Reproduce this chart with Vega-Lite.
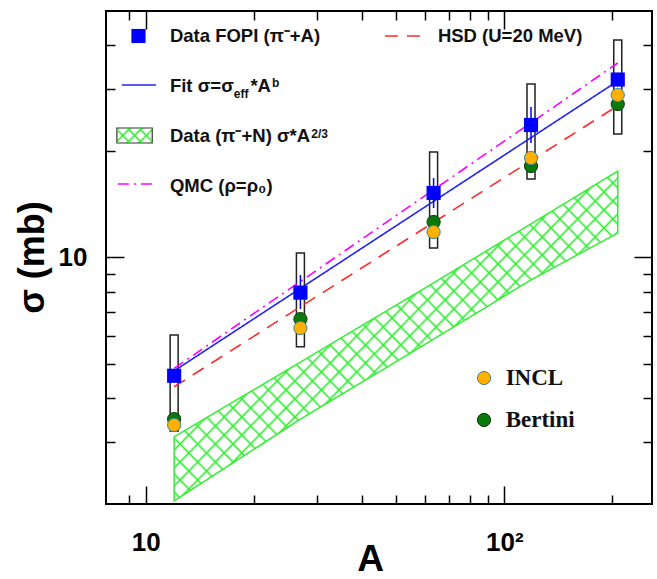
{
"$schema":"https://vega.github.io/schema/vega-lite/v6.json",
"width":546,"height":493,
"autosize":{"type":"none"},
"padding":{"left":106,"top":11,"right":5,"bottom":75},
"background":"white",
"config":{"view":{"stroke":"black","strokeWidth":2},"axis":{"grid":false,"domain":false}},
"datasets":{
"band":[{"A":12,"lo":2.04,"hi":3.10},{"A":27,"lo":3.48,"hi":5.05},{"A":63.5,"lo":5.87,"hi":8.47},{"A":118.7,"lo":8.64,"hi":12.45},{"A":207.2,"lo":11.73,"hi":17.59}],
"fopi":[{"A":12,"s":4.62,"slo":4.45,"shi":4.80,"blo":3.22,"bhi":6.03},{"A":27,"s":7.95,"slo":7.14,"shi":8.92,"blo":5.58,"bhi":10.3},{"A":63.5,"s":15.24,"slo":13.81,"shi":16.8,"blo":10.64,"bhi":19.92},{"A":118.7,"s":23.75,"slo":21.12,"shi":26.72,"blo":16.7,"bhi":31.04},{"A":207.2,"s":31.96,"slo":30.6,"shi":33.4,"blo":22.39,"bhi":41.38}],
"models":[{"model":"Bertini","A":12,"s":3.48},{"model":"Bertini","A":27,"s":6.69},{"model":"Bertini","A":63.5,"s":12.61},{"model":"Bertini","A":118.7,"s":18.17},{"model":"Bertini","A":207.2,"s":27.24},{"model":"INCL","A":12,"s":3.35},{"model":"INCL","A":27,"s":6.31},{"model":"INCL","A":63.5,"s":11.81},{"model":"INCL","A":118.7,"s":19.15},{"model":"INCL","A":207.2,"s":28.89}],
"curves":[{"curve":"Fit","A":12,"s":4.77},{"curve":"Fit","A":207.2,"s":31.66},{"curve":"HSD","A":12,"s":4.30},{"curve":"HSD","A":207.2,"s":26.94},{"curve":"QMC","A":12,"s":4.85},{"curve":"QMC","A":207.2,"s":35.6}],
"legsq":[{"A":9.544,"s":42.47}],
"legline":[{"curve":"Fit","A1":8.577,"A2":10.69,"s":30.85},{"curve":"QMC","A1":8.361,"A2":10.425,"s":16.16},{"curve":"HSD","A1":46.45,"A2":58.66,"s":42.47}],
"legbox":[{"A1":8.309,"A2":10.425,"s1":21.12,"s2":23.29}],
"legcirc":[{"model":"INCL","A":87.78,"s":4.553},{"model":"Bertini","A":87.78,"s":3.462}],
"legtext":[{"A":11.68,"s":40.83,"t":"Data FOPI (π⁻+A)"},{"A":11.68,"s":29.47,"t":"Fit σ=σ"},{"A":19.58,"s":29.47,"t":"*A"},{"A":11.68,"s":21.26,"t":"Data (π⁻+N) σ*A"},{"A":11.68,"s":15.34,"t":"QMC (ρ=ρ₀)"},{"A":65.28,"s":40.83,"t":"HSD (U=20 MeV)"}],
"legsmall":[{"A":17.6,"s":28.34,"t":"eff"},{"A":22.5,"s":30.54,"t":"b"},{"A":28.95,"s":21.89,"t":"2/3"}],
"legserif":[{"A":100.85,"s":4.35,"t":"INCL"},{"A":100.85,"s":3.307,"t":"Bertini"}]
},
"layer":[
{"data":{"name":"band"},
 "mark":{"type":"area","stroke":"#33ee33","strokeWidth":1.5,
  "fill":{"gradient":"linear","x1":0,"y1":0,"x2":1.1286,"y2":0.8239,"stops":[
{"offset":0.0085,"color":"#33ee3300"},{"offset":0.0115,"color":"#33ee33"},{"offset":0.0145,"color":"#33ee3300"},
{"offset":0.0315,"color":"#33ee3300"},{"offset":0.0345,"color":"#33ee33"},{"offset":0.0375,"color":"#33ee3300"},
{"offset":0.0545,"color":"#33ee3300"},{"offset":0.0575,"color":"#33ee33"},{"offset":0.0605,"color":"#33ee3300"},
{"offset":0.0776,"color":"#33ee3300"},{"offset":0.0806,"color":"#33ee33"},{"offset":0.0836,"color":"#33ee3300"},
{"offset":0.1006,"color":"#33ee3300"},{"offset":0.1036,"color":"#33ee33"},{"offset":0.1066,"color":"#33ee3300"},
{"offset":0.1236,"color":"#33ee3300"},{"offset":0.1266,"color":"#33ee33"},{"offset":0.1296,"color":"#33ee3300"},
{"offset":0.1466,"color":"#33ee3300"},{"offset":0.1496,"color":"#33ee33"},{"offset":0.1526,"color":"#33ee3300"},
{"offset":0.1696,"color":"#33ee3300"},{"offset":0.1726,"color":"#33ee33"},{"offset":0.1756,"color":"#33ee3300"},
{"offset":0.1926,"color":"#33ee3300"},{"offset":0.1956,"color":"#33ee33"},{"offset":0.1986,"color":"#33ee3300"},
{"offset":0.2157,"color":"#33ee3300"},{"offset":0.2187,"color":"#33ee33"},{"offset":0.2217,"color":"#33ee3300"},
{"offset":0.2387,"color":"#33ee3300"},{"offset":0.2417,"color":"#33ee33"},{"offset":0.2447,"color":"#33ee3300"},
{"offset":0.2617,"color":"#33ee3300"},{"offset":0.2647,"color":"#33ee33"},{"offset":0.2677,"color":"#33ee3300"},
{"offset":0.2847,"color":"#33ee3300"},{"offset":0.2877,"color":"#33ee33"},{"offset":0.2907,"color":"#33ee3300"},
{"offset":0.3077,"color":"#33ee3300"},{"offset":0.3107,"color":"#33ee33"},{"offset":0.3137,"color":"#33ee3300"},
{"offset":0.3308,"color":"#33ee3300"},{"offset":0.3338,"color":"#33ee33"},{"offset":0.3368,"color":"#33ee3300"},
{"offset":0.3538,"color":"#33ee3300"},{"offset":0.3568,"color":"#33ee33"},{"offset":0.3598,"color":"#33ee3300"},
{"offset":0.3768,"color":"#33ee3300"},{"offset":0.3798,"color":"#33ee33"},{"offset":0.3828,"color":"#33ee3300"},
{"offset":0.3998,"color":"#33ee3300"},{"offset":0.4028,"color":"#33ee33"},{"offset":0.4058,"color":"#33ee3300"},
{"offset":0.4228,"color":"#33ee3300"},{"offset":0.4258,"color":"#33ee33"},{"offset":0.4288,"color":"#33ee3300"},
{"offset":0.4458,"color":"#33ee3300"},{"offset":0.4488,"color":"#33ee33"},{"offset":0.4518,"color":"#33ee3300"},
{"offset":0.4689,"color":"#33ee3300"},{"offset":0.4719,"color":"#33ee33"},{"offset":0.4749,"color":"#33ee3300"},
{"offset":0.4919,"color":"#33ee3300"},{"offset":0.4949,"color":"#33ee33"},{"offset":0.4979,"color":"#33ee3300"},
{"offset":0.5149,"color":"#33ee3300"},{"offset":0.5179,"color":"#33ee33"},{"offset":0.5209,"color":"#33ee3300"},
{"offset":0.5379,"color":"#33ee3300"},{"offset":0.5409,"color":"#33ee33"},{"offset":0.5439,"color":"#33ee3300"},
{"offset":0.5609,"color":"#33ee3300"},{"offset":0.5639,"color":"#33ee33"},{"offset":0.5669,"color":"#33ee3300"},
{"offset":0.584,"color":"#33ee3300"},{"offset":0.587,"color":"#33ee33"},{"offset":0.59,"color":"#33ee3300"},
{"offset":0.607,"color":"#33ee3300"},{"offset":0.61,"color":"#33ee33"},{"offset":0.613,"color":"#33ee3300"},
{"offset":0.63,"color":"#33ee3300"},{"offset":0.633,"color":"#33ee33"},{"offset":0.636,"color":"#33ee3300"},
{"offset":0.653,"color":"#33ee3300"},{"offset":0.656,"color":"#33ee33"},{"offset":0.659,"color":"#33ee3300"},
{"offset":0.676,"color":"#33ee3300"},{"offset":0.679,"color":"#33ee33"},{"offset":0.682,"color":"#33ee3300"},
{"offset":0.699,"color":"#33ee3300"},{"offset":0.702,"color":"#33ee33"},{"offset":0.705,"color":"#33ee3300"},
{"offset":0.7221,"color":"#33ee3300"},{"offset":0.7251,"color":"#33ee33"},{"offset":0.7281,"color":"#33ee3300"},
{"offset":0.7451,"color":"#33ee3300"},{"offset":0.7481,"color":"#33ee33"},{"offset":0.7511,"color":"#33ee3300"},
{"offset":0.7681,"color":"#33ee3300"},{"offset":0.7711,"color":"#33ee33"},{"offset":0.7741,"color":"#33ee3300"},
{"offset":0.7911,"color":"#33ee3300"},{"offset":0.7941,"color":"#33ee33"},{"offset":0.7971,"color":"#33ee3300"},
{"offset":0.8141,"color":"#33ee3300"},{"offset":0.8171,"color":"#33ee33"},{"offset":0.8201,"color":"#33ee3300"},
{"offset":0.8371,"color":"#33ee3300"},{"offset":0.8401,"color":"#33ee33"},{"offset":0.8431,"color":"#33ee3300"},
{"offset":0.8602,"color":"#33ee3300"},{"offset":0.8632,"color":"#33ee33"},{"offset":0.8662,"color":"#33ee3300"},
{"offset":0.8832,"color":"#33ee3300"},{"offset":0.8862,"color":"#33ee33"},{"offset":0.8892,"color":"#33ee3300"},
{"offset":0.9062,"color":"#33ee3300"},{"offset":0.9092,"color":"#33ee33"},{"offset":0.9122,"color":"#33ee3300"},
{"offset":0.9292,"color":"#33ee3300"},{"offset":0.9322,"color":"#33ee33"},{"offset":0.9352,"color":"#33ee3300"},
{"offset":0.9522,"color":"#33ee3300"},{"offset":0.9552,"color":"#33ee33"},{"offset":0.9582,"color":"#33ee3300"},
{"offset":0.9753,"color":"#33ee3300"},{"offset":0.9783,"color":"#33ee33"},{"offset":0.9813,"color":"#33ee3300"}]}},
 "encoding":{
  "x":{"field":"A","type":"quantitative","scale":{"type":"log","domain":[8,250],"nice":false},
   "axis":{"orient":"bottom","values":[9,10,20,30,40,50,60,70,80,90,100,200],
    "labelExpr":"datum.value == 10 ? '10' : (datum.value == 100 ? '10²' : '')",
    "tickSize":{"condition":{"test":"datum.value == 10 || datum.value == 100","value":-18},"value":-9},
    "tickColor":"black","tickWidth":1.5,
    "labelFont":"Liberation Sans","labelFontWeight":"bold","labelFontSize":26,"labelColor":"black",
    "labelPadding":64,"labelBaseline":"alphabetic","labelOverlap":false,"labelFlush":false,"labelBound":false,
    "title":"A","titleFont":"Liberation Sans","titleFontWeight":"bold","titleFontSize":37,"titleColor":"black",
    "titleX":264,"titleY":66,"titleBaseline":"alphabetic"}},
  "y":{"field":"hi","type":"quantitative","scale":{"type":"log","domain":[2,50],"nice":false},
   "axis":{"orient":"left","values":[3,4,5,6,7,8,9,10,20,30,40],
    "labelExpr":"datum.value == 10 ? '10' : ''",
    "tickSize":{"condition":{"test":"datum.value == 10","value":-18},"value":-9},
    "tickColor":"black","tickWidth":1.5,
    "labelFont":"Liberation Sans","labelFontWeight":"bold","labelFontSize":26,"labelColor":"black",
    "labelPadding":37,"labelOverlap":false,"labelFlush":false,"labelBound":false,
    "title":"σ (mb)","titleFont":"Liberation Sans","titleFontWeight":"bold","titleFontSize":36,"titleColor":"black",
    "titleX":-63,"titleY":246,"titleAngle":-90,"titleBaseline":"alphabetic","titleAlign":"center"}},
  "y2":{"field":"lo"}}},
{"data":{"name":"band"},
 "mark":{"type":"area",
  "fill":{"gradient":"linear","x1":0,"y1":1,"x2":1.1286,"y2":0.1761,"stops":[
{"offset":0.0085,"color":"#33ee3300"},{"offset":0.0115,"color":"#33ee33"},{"offset":0.0145,"color":"#33ee3300"},
{"offset":0.0315,"color":"#33ee3300"},{"offset":0.0345,"color":"#33ee33"},{"offset":0.0375,"color":"#33ee3300"},
{"offset":0.0545,"color":"#33ee3300"},{"offset":0.0575,"color":"#33ee33"},{"offset":0.0605,"color":"#33ee3300"},
{"offset":0.0776,"color":"#33ee3300"},{"offset":0.0806,"color":"#33ee33"},{"offset":0.0836,"color":"#33ee3300"},
{"offset":0.1006,"color":"#33ee3300"},{"offset":0.1036,"color":"#33ee33"},{"offset":0.1066,"color":"#33ee3300"},
{"offset":0.1236,"color":"#33ee3300"},{"offset":0.1266,"color":"#33ee33"},{"offset":0.1296,"color":"#33ee3300"},
{"offset":0.1466,"color":"#33ee3300"},{"offset":0.1496,"color":"#33ee33"},{"offset":0.1526,"color":"#33ee3300"},
{"offset":0.1696,"color":"#33ee3300"},{"offset":0.1726,"color":"#33ee33"},{"offset":0.1756,"color":"#33ee3300"},
{"offset":0.1926,"color":"#33ee3300"},{"offset":0.1956,"color":"#33ee33"},{"offset":0.1986,"color":"#33ee3300"},
{"offset":0.2157,"color":"#33ee3300"},{"offset":0.2187,"color":"#33ee33"},{"offset":0.2217,"color":"#33ee3300"},
{"offset":0.2387,"color":"#33ee3300"},{"offset":0.2417,"color":"#33ee33"},{"offset":0.2447,"color":"#33ee3300"},
{"offset":0.2617,"color":"#33ee3300"},{"offset":0.2647,"color":"#33ee33"},{"offset":0.2677,"color":"#33ee3300"},
{"offset":0.2847,"color":"#33ee3300"},{"offset":0.2877,"color":"#33ee33"},{"offset":0.2907,"color":"#33ee3300"},
{"offset":0.3077,"color":"#33ee3300"},{"offset":0.3107,"color":"#33ee33"},{"offset":0.3137,"color":"#33ee3300"},
{"offset":0.3308,"color":"#33ee3300"},{"offset":0.3338,"color":"#33ee33"},{"offset":0.3368,"color":"#33ee3300"},
{"offset":0.3538,"color":"#33ee3300"},{"offset":0.3568,"color":"#33ee33"},{"offset":0.3598,"color":"#33ee3300"},
{"offset":0.3768,"color":"#33ee3300"},{"offset":0.3798,"color":"#33ee33"},{"offset":0.3828,"color":"#33ee3300"},
{"offset":0.3998,"color":"#33ee3300"},{"offset":0.4028,"color":"#33ee33"},{"offset":0.4058,"color":"#33ee3300"},
{"offset":0.4228,"color":"#33ee3300"},{"offset":0.4258,"color":"#33ee33"},{"offset":0.4288,"color":"#33ee3300"},
{"offset":0.4458,"color":"#33ee3300"},{"offset":0.4488,"color":"#33ee33"},{"offset":0.4518,"color":"#33ee3300"},
{"offset":0.4689,"color":"#33ee3300"},{"offset":0.4719,"color":"#33ee33"},{"offset":0.4749,"color":"#33ee3300"},
{"offset":0.4919,"color":"#33ee3300"},{"offset":0.4949,"color":"#33ee33"},{"offset":0.4979,"color":"#33ee3300"},
{"offset":0.5149,"color":"#33ee3300"},{"offset":0.5179,"color":"#33ee33"},{"offset":0.5209,"color":"#33ee3300"},
{"offset":0.5379,"color":"#33ee3300"},{"offset":0.5409,"color":"#33ee33"},{"offset":0.5439,"color":"#33ee3300"},
{"offset":0.5609,"color":"#33ee3300"},{"offset":0.5639,"color":"#33ee33"},{"offset":0.5669,"color":"#33ee3300"},
{"offset":0.584,"color":"#33ee3300"},{"offset":0.587,"color":"#33ee33"},{"offset":0.59,"color":"#33ee3300"},
{"offset":0.607,"color":"#33ee3300"},{"offset":0.61,"color":"#33ee33"},{"offset":0.613,"color":"#33ee3300"},
{"offset":0.63,"color":"#33ee3300"},{"offset":0.633,"color":"#33ee33"},{"offset":0.636,"color":"#33ee3300"},
{"offset":0.653,"color":"#33ee3300"},{"offset":0.656,"color":"#33ee33"},{"offset":0.659,"color":"#33ee3300"},
{"offset":0.676,"color":"#33ee3300"},{"offset":0.679,"color":"#33ee33"},{"offset":0.682,"color":"#33ee3300"},
{"offset":0.699,"color":"#33ee3300"},{"offset":0.702,"color":"#33ee33"},{"offset":0.705,"color":"#33ee3300"},
{"offset":0.7221,"color":"#33ee3300"},{"offset":0.7251,"color":"#33ee33"},{"offset":0.7281,"color":"#33ee3300"},
{"offset":0.7451,"color":"#33ee3300"},{"offset":0.7481,"color":"#33ee33"},{"offset":0.7511,"color":"#33ee3300"},
{"offset":0.7681,"color":"#33ee3300"},{"offset":0.7711,"color":"#33ee33"},{"offset":0.7741,"color":"#33ee3300"},
{"offset":0.7911,"color":"#33ee3300"},{"offset":0.7941,"color":"#33ee33"},{"offset":0.7971,"color":"#33ee3300"},
{"offset":0.8141,"color":"#33ee3300"},{"offset":0.8171,"color":"#33ee33"},{"offset":0.8201,"color":"#33ee3300"},
{"offset":0.8371,"color":"#33ee3300"},{"offset":0.8401,"color":"#33ee33"},{"offset":0.8431,"color":"#33ee3300"},
{"offset":0.8602,"color":"#33ee3300"},{"offset":0.8632,"color":"#33ee33"},{"offset":0.8662,"color":"#33ee3300"},
{"offset":0.8832,"color":"#33ee3300"},{"offset":0.8862,"color":"#33ee33"},{"offset":0.8892,"color":"#33ee3300"},
{"offset":0.9062,"color":"#33ee3300"},{"offset":0.9092,"color":"#33ee33"},{"offset":0.9122,"color":"#33ee3300"},
{"offset":0.9292,"color":"#33ee3300"},{"offset":0.9322,"color":"#33ee33"},{"offset":0.9352,"color":"#33ee3300"},
{"offset":0.9522,"color":"#33ee3300"},{"offset":0.9552,"color":"#33ee33"},{"offset":0.9582,"color":"#33ee3300"},
{"offset":0.9753,"color":"#33ee3300"},{"offset":0.9783,"color":"#33ee33"},{"offset":0.9813,"color":"#33ee3300"}]}},
 "encoding":{
  "x":{"field":"A","type":"quantitative","scale":{"type":"log","domain":[8,250],"nice":false},"axis":null},
  "y":{"field":"hi","type":"quantitative","scale":{"type":"log","domain":[2,50],"nice":false},"axis":null},
  "y2":{"field":"lo"}}},
{"data":{"name":"fopi"},
 "mark":{"type":"bar","width":8,"fill":"white","fillOpacity":0,"stroke":"#222222","strokeWidth":1.5},
 "encoding":{
  "x":{"field":"A","type":"quantitative","scale":{"type":"log","domain":[8,250],"nice":false},
   "axis":{"orient":"top","values":[9,10,20,30,40,50,60,70,80,90,100,200],"labels":false,
    "tickSize":{"condition":{"test":"datum.value == 10 || datum.value == 100","value":-18},"value":-9},
    "tickColor":"black","tickWidth":1.5,"title":null}},
  "y":{"field":"bhi","type":"quantitative","scale":{"type":"log","domain":[2,50],"nice":false},
   "axis":{"orient":"right","values":[3,4,5,6,7,8,9,10,20,30,40],"labels":false,
    "tickSize":{"condition":{"test":"datum.value == 10","value":-18},"value":-9},
    "tickColor":"black","tickWidth":1.5,"title":null}},
  "y2":{"field":"blo"}}},
{"data":{"name":"curves"},
 "mark":{"type":"line","strokeWidth":1.6},
 "encoding":{
  "x":{"field":"A","type":"quantitative","scale":{"type":"log","domain":[8,250],"nice":false},"axis":null},
  "y":{"field":"s","type":"quantitative","scale":{"type":"log","domain":[2,50],"nice":false},"axis":null},
  "color":{"field":"curve","type":"nominal","scale":{"domain":["Fit","HSD","QMC"],"range":["#2424f0","#ff2a2a","#ff00ff"]},"legend":null},
  "strokeDash":{"field":"curve","type":"nominal","scale":{"domain":["Fit","HSD","QMC"],"range":[[1,0],[13,9],[11,5,2,5]]},"legend":null}}},
{"data":{"name":"legline"},
 "mark":{"type":"rule","strokeWidth":1.6},
 "encoding":{
  "x":{"field":"A1","type":"quantitative","scale":{"type":"log","domain":[8,250],"nice":false},"axis":null},
  "x2":{"field":"A2"},
  "y":{"field":"s","type":"quantitative","scale":{"type":"log","domain":[2,50],"nice":false},"axis":null},
  "color":{"field":"curve","type":"nominal","scale":{"domain":["Fit","HSD","QMC"],"range":["#2424f0","#ff2a2a","#ff00ff"]},"legend":null},
  "strokeDash":{"field":"curve","type":"nominal","scale":{"domain":["Fit","HSD","QMC"],"range":[[1,0],[13,9],[11,5,2,5]]},"legend":null}}},
{"data":{"name":"fopi"},
 "mark":{"type":"rule","color":"#0000ff","strokeWidth":1.5},
 "encoding":{
  "x":{"field":"A","type":"quantitative","scale":{"type":"log","domain":[8,250],"nice":false},"axis":null},
  "y":{"field":"slo","type":"quantitative","scale":{"type":"log","domain":[2,50],"nice":false},"axis":null},
  "y2":{"field":"shi"}}},
{"data":{"name":"models"},
 "mark":{"type":"point","shape":"circle","filled":true,"size":175,"strokeWidth":1,"opacity":1},
 "encoding":{
  "x":{"field":"A","type":"quantitative","scale":{"type":"log","domain":[8,250],"nice":false},"axis":null},
  "y":{"field":"s","type":"quantitative","scale":{"type":"log","domain":[2,50],"nice":false},"axis":null},
  "fill":{"field":"model","type":"nominal","scale":{"domain":["INCL","Bertini"],"range":["#ffb000","#0b780b"]},"legend":null},
  "stroke":{"field":"model","type":"nominal","scale":{"domain":["INCL","Bertini"],"range":["#3f8599","#0a400a"]},"legend":null}}},
{"data":{"name":"legcirc"},
 "mark":{"type":"point","shape":"circle","filled":true,"size":175,"strokeWidth":1,"opacity":1},
 "encoding":{
  "x":{"field":"A","type":"quantitative","scale":{"type":"log","domain":[8,250],"nice":false},"axis":null},
  "y":{"field":"s","type":"quantitative","scale":{"type":"log","domain":[2,50],"nice":false},"axis":null},
  "fill":{"field":"model","type":"nominal","scale":{"domain":["INCL","Bertini"],"range":["#ffb000","#0b780b"]},"legend":null},
  "stroke":{"field":"model","type":"nominal","scale":{"domain":["INCL","Bertini"],"range":["#3f8599","#0a400a"]},"legend":null}}},
{"data":{"name":"fopi"},
 "mark":{"type":"point","shape":"square","filled":true,"size":200,"color":"#0000ff","opacity":1},
 "encoding":{
  "x":{"field":"A","type":"quantitative","scale":{"type":"log","domain":[8,250],"nice":false},"axis":null},
  "y":{"field":"s","type":"quantitative","scale":{"type":"log","domain":[2,50],"nice":false},"axis":null}}},
{"data":{"name":"legsq"},
 "mark":{"type":"point","shape":"square","filled":true,"size":200,"color":"#0000ff","opacity":1},
 "encoding":{
  "x":{"field":"A","type":"quantitative","scale":{"type":"log","domain":[8,250],"nice":false},"axis":null},
  "y":{"field":"s","type":"quantitative","scale":{"type":"log","domain":[2,50],"nice":false},"axis":null}}},
{"data":{"name":"legbox"},
 "mark":{"type":"rect","stroke":"#333333","strokeWidth":1.2,
  "fill":{"gradient":"linear","x1":0,"y1":0,"x2":1.2071,"y2":0.503,"stops":[{"offset":0,"color":"#33ee33"},{"offset":0.0744,"color":"#33ee3300"},{"offset":0.2197,"color":"#33ee3300"},{"offset":0.2647,"color":"#33ee33"},{"offset":0.3097,"color":"#33ee3300"},{"offset":0.455,"color":"#33ee3300"},{"offset":0.5,"color":"#33ee33"},{"offset":0.545,"color":"#33ee3300"},{"offset":0.6903,"color":"#33ee3300"},{"offset":0.7353,"color":"#33ee33"},{"offset":0.7803,"color":"#33ee3300"},{"offset":0.9256,"color":"#33ee3300"},{"offset":1,"color":"#33ee33"}]}},
 "encoding":{
  "x":{"field":"A1","type":"quantitative","scale":{"type":"log","domain":[8,250],"nice":false},"axis":null},
  "x2":{"field":"A2"},
  "y":{"field":"s1","type":"quantitative","scale":{"type":"log","domain":[2,50],"nice":false},"axis":null},
  "y2":{"field":"s2"}}},
{"data":{"name":"legbox"},
 "mark":{"type":"rect",
  "fill":{"gradient":"linear","x1":0,"y1":1,"x2":1.2071,"y2":0.497,"stops":[{"offset":0,"color":"#33ee33"},{"offset":0.0744,"color":"#33ee3300"},{"offset":0.2197,"color":"#33ee3300"},{"offset":0.2647,"color":"#33ee33"},{"offset":0.3097,"color":"#33ee3300"},{"offset":0.455,"color":"#33ee3300"},{"offset":0.5,"color":"#33ee33"},{"offset":0.545,"color":"#33ee3300"},{"offset":0.6903,"color":"#33ee3300"},{"offset":0.7353,"color":"#33ee33"},{"offset":0.7803,"color":"#33ee3300"},{"offset":0.9256,"color":"#33ee3300"},{"offset":1,"color":"#33ee33"}]}},
 "encoding":{
  "x":{"field":"A1","type":"quantitative","scale":{"type":"log","domain":[8,250],"nice":false},"axis":null},
  "x2":{"field":"A2"},
  "y":{"field":"s1","type":"quantitative","scale":{"type":"log","domain":[2,50],"nice":false},"axis":null},
  "y2":{"field":"s2"}}},
{"data":{"name":"legtext"},
 "mark":{"type":"text","align":"left","baseline":"alphabetic","font":"Liberation Sans","fontWeight":"bold","fontSize":18.5,"color":"#111111"},
 "encoding":{
  "x":{"field":"A","type":"quantitative","scale":{"type":"log","domain":[8,250],"nice":false},"axis":null},
  "y":{"field":"s","type":"quantitative","scale":{"type":"log","domain":[2,50],"nice":false},"axis":null},
  "text":{"field":"t"}}},
{"data":{"name":"legsmall"},
 "mark":{"type":"text","align":"left","baseline":"alphabetic","font":"Liberation Sans","fontWeight":"bold","fontSize":12,"color":"#111111"},
 "encoding":{
  "x":{"field":"A","type":"quantitative","scale":{"type":"log","domain":[8,250],"nice":false},"axis":null},
  "y":{"field":"s","type":"quantitative","scale":{"type":"log","domain":[2,50],"nice":false},"axis":null},
  "text":{"field":"t"}}},
{"data":{"name":"legserif"},
 "mark":{"type":"text","align":"left","baseline":"alphabetic","font":"Liberation Serif","fontWeight":"bold","fontSize":23,"color":"#111111"},
 "encoding":{
  "x":{"field":"A","type":"quantitative","scale":{"type":"log","domain":[8,250],"nice":false},"axis":null},
  "y":{"field":"s","type":"quantitative","scale":{"type":"log","domain":[2,50],"nice":false},"axis":null},
  "text":{"field":"t"}}}
],
"resolve":{"axis":{"x":"independent","y":"independent"}}
}
